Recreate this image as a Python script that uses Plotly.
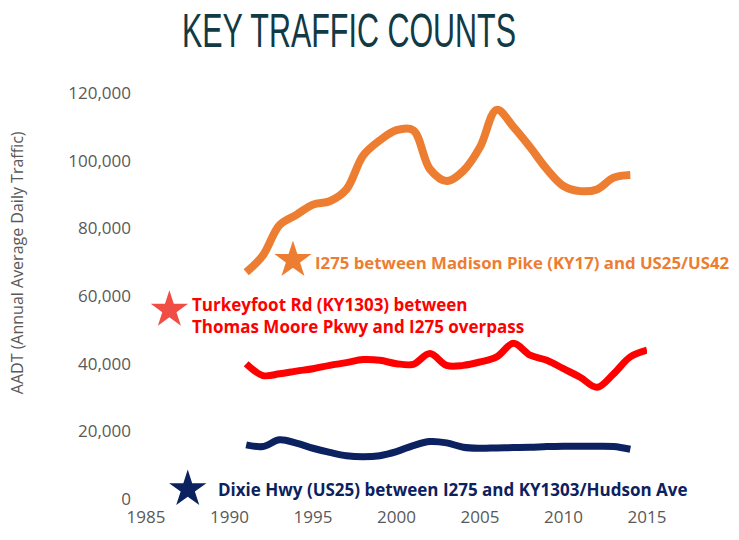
import plotly.graph_objects as go

years = list(range(1991, 2015))
years_red = list(range(1991, 2016))

madison = [67000, 72000, 81000, 84000, 87000, 88000, 91500, 101500, 106000, 109000,
           109000, 97500, 94000, 97000, 104000, 115000, 110000, 104000, 97500, 92500,
           91000, 91500, 95000, 95800]
turkeyfoot = [40000, 36500, 37000, 37800, 38500, 39500, 40300, 41200, 41000, 40000,
              39800, 43000, 39500, 39500, 40500, 42000, 46000, 42500, 41000, 38500,
              36000, 33000, 37000, 42000, 44000]
dixie = [16000, 15500, 17500, 16500, 15000, 13800, 12800, 12500, 12800, 14000,
         15800, 17000, 16600, 15300, 15000, 15100, 15200, 15300, 15500, 15600,
         15600, 15600, 15500, 14700]

star_x = [1993.8, 1986.4, 1987.5]
star_y = [70600, 55900, 2900]
star_colors = ["#ED7D31", "#F04E45", "#0B2160"]

labels = ["I275 between Madison Pike (KY17) and US25/US42",
          "Turkeyfoot Rd (KY1303) between<br>Thomas Moore Pkwy and I275 overpass",
          "Dixie Hwy (US25) between I275 and KY1303/Hudson Ave"]
label_x = [1994.97, 1987.65, 1989.2]
label_y = [70000, 54200, 2900]
label_colors = ["#ED7D31", "#FF0000", "#0B2160"]
label_sizes = [16.8, 17, 17]

x_ticks = [1985, 1990, 1995, 2000, 2005, 2010, 2015]
y_ticks = [0, 20000, 40000, 60000, 80000, 100000, 120000]

fig = go.Figure()
fig.add_trace(go.Scatter(x=years, y=madison, mode="lines",
                         line=dict(color="#ED7D31", width=8, shape="spline", smoothing=1.0)))
fig.add_trace(go.Scatter(x=years_red, y=turkeyfoot, mode="lines",
                         line=dict(color="#FF0000", width=7, shape="spline", smoothing=1.0)))
fig.add_trace(go.Scatter(x=years, y=dixie, mode="lines",
                         line=dict(color="#0B2160", width=7, shape="spline", smoothing=1.0)))
fig.add_trace(go.Scatter(x=star_x, y=star_y, mode="markers",
                         marker=dict(symbol="star", size=28, color=star_colors,
                                     line=dict(width=0)),
                         cliponaxis=False))

for t, x, y, c, s in zip(labels, label_x, label_y, label_colors, label_sizes):
    fig.add_annotation(x=x, y=y, xref="x", yref="y", text=t, showarrow=False,
                       xanchor="left", yanchor="middle", align="left",
                       font=dict(family="Open Sans", size=s, color=c, weight="bold"))

L, R, T, B = 146, 92, 93, 39
pw, ph = 739 - L - R, 540 - T - B

fig.add_annotation(xref="paper", yref="paper", x=(17 - L) / pw, y=(540 - B - 264) / ph,
                   text="AADT (Annual Average Daily Traffic)", textangle=-90,
                   showarrow=False, xanchor="center", yanchor="middle",
                   font=dict(family="Open Sans", size=16, color="#595959"))

TX, TY = 349, 30
fig.update_layout(
    width=739, height=540,
    margin=dict(l=L, r=R, t=T, b=B),
    paper_bgcolor="white", plot_bgcolor="white",
    showlegend=False,
    title=dict(text="KEY TRAFFIC COUNTS", x=TX / 739, xanchor="center",
               y=1 - TY / 540, yanchor="middle",
               font=dict(family="Liberation Sans, Arial, sans-serif", size=48,
                         color="#123A45")),
    xaxis=dict(range=[1985, 2015], tickvals=x_ticks,
               showgrid=False, zeroline=False, showline=False, ticks="",
               ticklabelstandoff=6,
               tickfont=dict(family="Open Sans", size=17, color="#595959")),
    yaxis=dict(range=[0, 120000], tickvals=y_ticks,
               tickformat=",", showgrid=False, zeroline=False, showline=False, ticks="",
               ticklabelstandoff=14,
               tickfont=dict(family="Open Sans", size=17, color="#595959")),
)

post = """
document.body.style.margin = '0';
var t = document.querySelector('.gtitle');
if (t) {
  var cx = %d, cy = %d;
  t.setAttribute('transform', 'translate(' + cx + ',' + cy + ') scale(0.635,1) translate(' + (-cx) + ',' + (-cy) + ')');
}
""" % (TX, TY)

fig.write_html("out.html", post_script=post, config={"displayModeBar": False})
